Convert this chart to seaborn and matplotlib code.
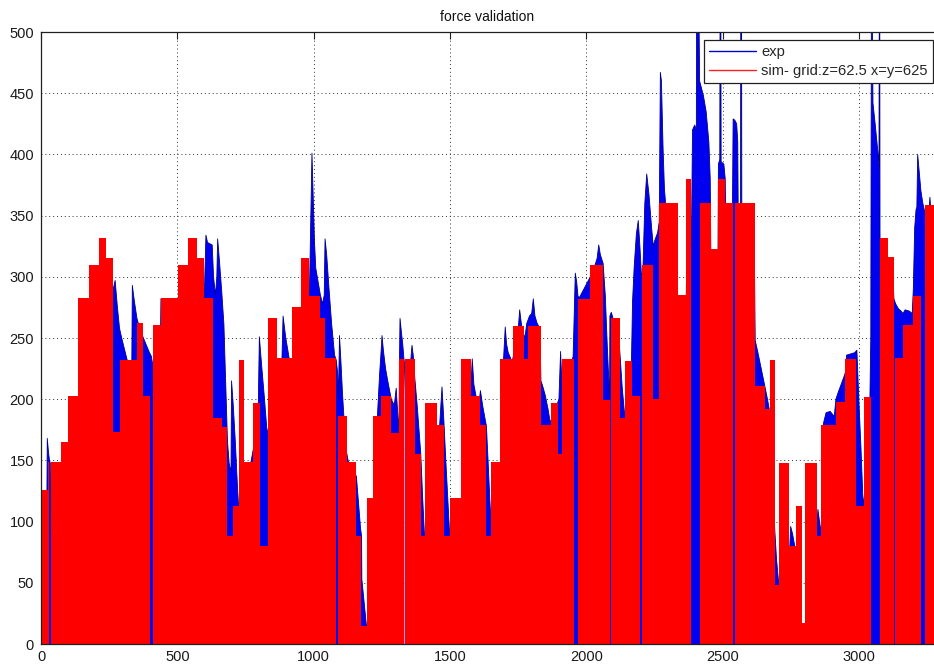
import numpy as np
import pandas as pd
import matplotlib
matplotlib.use("Agg")
import matplotlib.pyplot as plt
from matplotlib.lines import Line2D
import seaborn as sns

# ---------------- data ----------------
title = "force validation"
label_exp = "exp"
label_sim = "sim- grid:z=62.5 x=y=625"

x_ticks = [0, 500, 1000, 1500, 2000, 2500, 3000]
y_ticks = [0, 50, 100, 150, 200, 250, 300, 350, 400, 450, 500]

# simulated force: stepped envelope (segment edges and levels)
sim_edges = [0, 24, 31, 35, 75, 99, 136, 175, 212, 240, 265, 289, 351, 375, 401, 411,
             440, 502, 539, 571, 598, 632, 663, 681, 705, 727, 745, 776, 804, 833, 867,
             921, 955, 982, 1022, 1040, 1083, 1090, 1124, 1157, 1175, 1196, 1218, 1248,
             1285, 1313, 1333, 1337, 1371, 1393, 1410, 1454, 1478, 1499, 1539, 1579, 1609,
             1634, 1652, 1683, 1732, 1772, 1787, 1833, 1870, 1897, 1911, 1955, 1970, 2013,
             2062, 2086, 2092, 2123, 2144, 2168, 2199, 2205, 2245, 2266, 2337, 2367, 2386,
             2416, 2457, 2483, 2510, 2538, 2547, 2618, 2655, 2673, 2691, 2706, 2743, 2768,
             2792, 2804, 2847, 2862, 2915, 2951, 2988, 3018, 3045, 3076, 3107, 3129, 3134,
             3162, 3198, 3227, 3243, 3290]
sim_levels = [126, 149, 0, 149, 165, 203, 283, 310, 332, 315, 173, 232, 262, 203, 0,
              261, 283, 310, 332, 315, 283, 185, 177, 88, 113, 232, 149, 197, 80, 266, 234,
              275, 315, 284, 266, 234, 0, 186, 149, 88, 15, 119, 186, 203,
              172, 233, 0, 233, 155, 88, 197, 179, 88, 119, 233, 203,
              179, 88, 149, 233, 260, 233, 260, 179, 197, 155, 233, 0, 282,
              310, 199, 0, 266, 185, 231, 203, 0, 310, 200, 360, 285, 380,
              0, 360, 323, 380, 360, 0, 360, 211, 192, 232, 48, 148, 80,
              113, 17, 148, 88, 179, 198, 233, 113, 202, 0, 332, 316, 0,
              234, 261, 284, 0, 359]

# measured force: upper envelope (x, value); NaN = no signal (white gap)
exp_x = [0, 21, 23, 27, 31, 34, 36,
         262, 265, 272, 280, 288, 296, 305, 315, 325, 333, 335, 342, 352, 362, 372, 385, 398, 405, 410, 412,
         436, 440, 446, 450,
         596, 601, 605, 611, 628, 633, 640, 645, 648, 655, 663, 671, 678, 684, 690, 697, 699, 705, 713, 720, 725, 730,
         796, 801, 810, 820, 828, 834,
         880, 888, 898, 910, 915,
         985, 990, 994, 998, 1003, 1008, 1015, 1025, 1033, 1039, 1042, 1048, 1056, 1066, 1077, 1083, 1088,
         1091, 1095, 1100, 1106, 1111, 1118, 1130, 1150, 1157, 1165, 1172, 1176, 1177, 1185, 1193, 1197,
         1228, 1235, 1242, 1247, 1251, 1256, 1264, 1272, 1280, 1285, 1296, 1303, 1308, 1313, 1315, 1317, 1322,
         1327, 1331, 1333, 1335, 1337.5,
         1355, 1361, 1366, 1371, 1380, 1393, 1400, 1407, 1410,
         1460, 1471, 1478, 1485, 1492, 1499, 1538,
         1575, 1582, 1588, 1598, 1606, 1612, 1620, 1628, 1634, 1640, 1646, 1652, 1684,
         1695, 1703, 1708, 1714, 1720, 1728,
         1750, 1756, 1762, 1768,
         1775, 1782, 1792, 1800, 1806, 1812, 1820, 1830, 1834, 1840, 1850, 1860, 1868,
         1900, 1906, 1910, 1913,
         1952, 1955, 1960, 1965, 1970, 1975,
         2015, 2020, 2030, 2040, 2046, 2052, 2062, 2070, 2078, 2086, 2087, 2092, 2100,
         2118, 2123, 2132, 2140, 2144,
         2166, 2170, 2176, 2184, 2191, 2197, 2203, 2208, 2215, 2222, 2230, 2240, 2246, 2252, 2262, 2268,
         2272, 2276, 2282, 2287, 2292, 2300,
         2335, 2340, 2365, 2368,
         2386, 2390, 2398, 2404, 2405, 2414, 2416, 2422, 2430, 2440, 2450, 2455, 2458,
         2483, 2485, 2490, 2491, 2494, 2495, 2505, 2510, 2512,
         2536, 2539, 2545, 2552, 2556, 2558,
         2566, 2567, 2570, 2571,
         2616, 2620, 2630, 2645, 2655, 2665, 2673, 2680, 2690, 2698, 2706,
         2745, 2750, 2757, 2765, 2790, 2806,
         2845, 2850, 2856, 2862,
         2870, 2880, 2895, 2910, 2916, 2925, 2935, 2945, 2951,
         2955, 2970, 2985, 2993, 3000, 3008, 3015, 3018,
         3040, 3044, 3046, 3050, 3052, 3060, 3070, 3074, 3075, 3077, 3078,
         3125, 3129, 3135, 3145, 3155, 3162, 3170, 3185, 3196, 3200, 3205, 3210, 3213, 3216, 3222,
         3228, 3235, 3241, 3250, 3258, 3261, 3264, 3290]
exp_y = [80, 100, 168, 158, 150, 148, 90,
         150, 290, 297, 276, 258, 250, 242, 233, 225, 225, 293, 281, 266, 258, 252, 245, 238, 235, 228, 150,
         200, 282, 270, 230,
         260, 300, 334, 328, 326, 300, 285, 300, 331, 312, 288, 261, 210, 166, 148, 140, 215, 196, 165, 132, 112, 100,
         180, 251, 226, 200, 177, 170,
         200, 268, 250, 234, 220,
         290, 350, 401, 370, 330, 307, 298, 285, 278, 285, 331, 318, 292, 262, 236, 232, 222,
         200, 252, 232, 205, 186, 160, 146, 140, 137, 115, 95, 88, 53, 35, 17, 10,
         150, 190, 220, 237, 252, 240, 225, 215, 206, 200, 195, 209, 190, 172, 230, 266, 255,
         245, 234, 230, np.nan, 200,
         228, 244, 235, 218, 195, 156, 120, 88, 80,
         170, 210, 182, 150, 120, 90, 100,
         200, 233, 212, 200, 195, 207, 195, 185, 178, 150, 120, 95, 120,
         225, 259, 245, 238, 235, 230,
         255, 273, 262, 255,
         250, 262, 268, 270, 282, 268, 262, 258, 215, 211, 203, 192, 181,
         200, 239, 218, 200,
         235, 260, 303, 296, 284, 283,
         300, 306, 308, 315, 326, 318, 311, 285, 240, 200, 268, 271, 265,
         250, 240, 210, 190, 185,
         230, 280, 308, 335, 346, 325, 300, 305, 360, 384, 368, 340, 325, 330, 336, 345,
         467, 460, 405, 372, 358, 350,
         280, 260, 260, 300,
         330, 420, 424, 420, 510, 510, 460, 455, 448, 435, 410, 380, 300,
         300, 392, 396, 510, 510, 394, 392, 380, 340,
         340, 429, 428, 425, 410, 340,
         340, 510, 510, 340,
         340, 248, 238, 222, 211, 200, 190, 150, 100, 70, 50,
         70, 96, 90, 80, 10, 10,
         90, 110, 100, 90,
         180, 189, 190, 186, 200, 206, 212, 218, 222,
         236, 237, 238, 240, 200, 160, 120, 113,
         190, 250, 510, 510, 442, 425, 402, 390, 510, 510, 300,
         300, 282, 278, 274, 272, 270, 273, 272, 270, 290, 340, 355, 357, 400, 385,
         370, 360, 354, 350, 355, 365, 355, 350]

assert len(sim_edges) == len(sim_levels) + 1
assert len(exp_x) == len(exp_y)

# ---------------- style ----------------
sns.set_style("white")
plt.rcParams["font.family"] = ["Liberation Sans", "DejaVu Sans"]

fig = plt.figure(figsize=(9.34, 6.71), dpi=100)
W, H = 934, 671
ax = fig.add_axes([41 / W, 27 / H, 893 / W, 612 / H])

blue = "#0000f0"
red = "#ff0000"

# measured (blue) below the simulation
exp_df = pd.DataFrame({"t": exp_x, "force": exp_y})
yy = np.ma.masked_invalid(exp_df["force"].to_numpy(dtype=float))
ax.fill_between(exp_df["t"].to_numpy(dtype=float), yy, 0, color=blue, linewidth=0, zorder=2)
sns.lineplot(data=exp_df, x="t", y="force", ax=ax, color="#00008c", linewidth=0.6,
             sort=False, estimator=None, zorder=3)

# simulation (red) stepped envelope through seaborn's histogram with weights
edges = [float(e) for e in sim_edges]
mids = [(a + b) / 2 for a, b in zip(edges[:-1], edges[1:])]
sim_df = pd.DataFrame({"t": mids, "force": [float(v) for v in sim_levels]})
sns.histplot(data=sim_df, x="t", weights="force", bins=edges, element="step", fill=True,
             color=red, alpha=1.0, linewidth=0, ax=ax, zorder=4)

# axes cosmetics (MATLAB-like)
ax.set_xlim(0, 893 / 0.2726)
ax.set_ylim(0, 500)
ax.set_xticks(x_ticks)
ax.set_yticks(y_ticks)
ax.set_xlabel("")
ax.set_ylabel("")
ax.grid(True, color="#303030", linestyle=(0, (1, 3)), linewidth=0.7)
ax.set_axisbelow(True)
for s in ["top", "left", "bottom"]:
    ax.spines[s].set_visible(True)
    ax.spines[s].set_color("#202020")
    ax.spines[s].set_linewidth(0.9)
    ax.spines[s].set_zorder(6)
ax.spines["right"].set_visible(False)
ax.tick_params(axis="both", direction="in", length=5, width=0.8, color="#202020",
               labelsize=10.5, labelcolor="#1a1a1a", top=True, right=False)
ax.tick_params(axis="x", pad=4)
ax.tick_params(axis="y", pad=5)

ax.set_title(title, fontsize=10, pad=8, color="#111111")

handles = [Line2D([], [], color="#0000cc", lw=1.0),
           Line2D([], [], color="#ff2020", lw=1.0)]
leg = ax.legend(handles, [label_exp, label_sim], loc="upper right",
                bbox_to_anchor=(0.999, 0.987), borderaxespad=0, fontsize=10.6,
                frameon=True, fancybox=False, framealpha=1, edgecolor="#202020",
                handlelength=3.2, handletextpad=0.35, labelspacing=0.35,
                borderpad=0.35)
leg.get_frame().set_linewidth(0.9)
leg.set_zorder(10)

fig.savefig("out.png", dpi=100)
